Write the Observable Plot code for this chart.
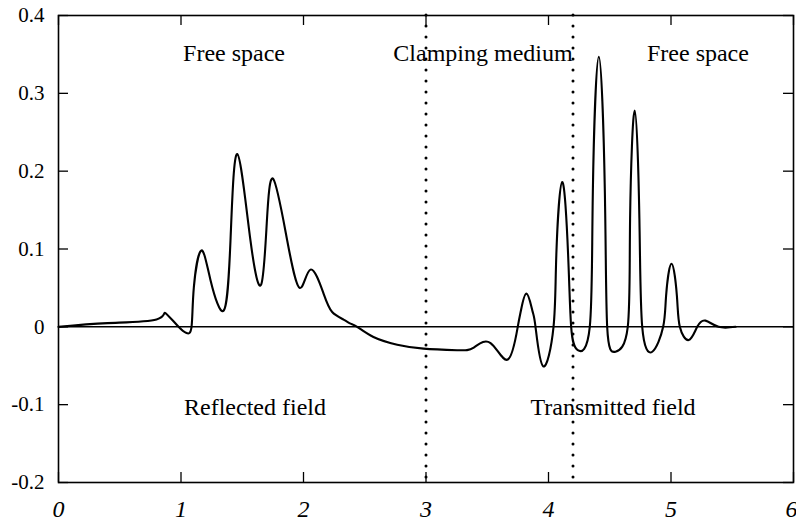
<!DOCTYPE html>
<html>
<head>
<meta charset="utf-8">
<script src="https://cdn.jsdelivr.net/npm/d3@7"></script>
<script src="https://cdn.jsdelivr.net/npm/@observablehq/plot@0.6"></script>
<style>
  html, body { margin: 0; padding: 0; background: #fff; }
  #chart { width: 796px; height: 523px; }
</style>
</head>
<body>
<div id="chart"></div>
<script>
const xTicks = [0, 1, 2, 3, 4, 5, 6];
const xTickLabels = ["0", "1", "2", "3", "4", "5", "6"];
const yTicks = [-0.2, -0.1, 0, 0.1, 0.2, 0.3, 0.4];
const yTickLabels = ["-0.2", "-0.1", "0", "0.1", "0.2", "0.3", "0.4"];

const fieldX = [0, 0.4, 0.80, 0.873, 0.98, 1.045, 1.086, 1.105, 1.165, 1.241, 1.349, 1.404, 1.459, 1.567, 1.655, 1.70, 1.753, 1.867, 1.970, 2.057, 2.163, 2.234, 2.327, 2.384, 2.438, 2.571, 2.765, 2.98, 3.255, 3.39, 3.527, 3.668, 3.749, 3.775, 3.820, 3.868, 3.894, 3.957, 4.041, 4.064, 4.112, 4.160, 4.185, 4.239, 4.337, 4.362, 4.411, 4.460, 4.479, 4.547, 4.647, 4.666, 4.704, 4.742, 4.765, 4.847, 4.936, 4.960, 5.004, 5.048, 5.072, 5.145, 5.214, 5.282, 5.388, 5.527];
const fieldY = [0, 0.0048, 0.0094, 0.0177, 0, -0.008, 0, 0.051, 0.098, 0.060, 0.021, 0.111, 0.222, 0.111, 0.0546, 0.133, 0.190, 0.111, 0.050, 0.0735, 0.043, 0.019, 0.0093, 0.0041, 0, -0.013, -0.023, -0.028, -0.030, -0.0267, -0.0208, -0.042, 0, 0.021, 0.0427, 0.021, 0, -0.0508, 0, 0.093, 0.186, 0.093, 0, -0.030, 0, 0.174, 0.347, 0.174, 0, -0.032, 0, 0.139, 0.278, 0.139, 0, -0.032, 0, 0.040, 0.081, 0.040, 0, -0.017, 0, 0.008, 0, 0];

const boundaries = [3, 4.2];

const regionLabels = ["Free space", "Clamping medium", "Free space", "Reflected field", "Transmitted field"];
const labelX = [1.433, 3.465, 5.22, 1.604, 4.527];
const labelY = [0.352, 0.352, 0.352, -0.104, -0.104];

const W = 796, H = 523;
const mL = 58, mR = 3, mT = 15, mB = 41;
const innerW = W - mL - mR, innerH = H - mT - mB;
const tickLen = 10;
const serif = "'Liberation Serif', 'DejaVu Serif', serif";

const field = fieldX.map((x, i) => ({x, y: fieldY[i]}));
const lastTick = xTicks[xTicks.length - 1];

const chart = Plot.plot({
  width: W,
  height: H,
  marginLeft: mL,
  marginRight: mR,
  marginTop: mT,
  marginBottom: mB,
  style: {fontFamily: serif, background: "#fff", color: "#000"},
  x: {domain: [0, 6]},
  y: {domain: [-0.2, 0.4]},
  marks: [
    Plot.axisX({ticks: xTicks.slice(0, -1), tickSize: 0, tickPadding: 17, fontSize: 24, fontStyle: "italic", tickFormat: d => xTickLabels[xTicks.indexOf(d)], label: null}),
    Plot.axisX({ticks: [lastTick], tickSize: 0, tickPadding: 17, fontSize: 24, fontStyle: "italic", textAnchor: "end", dx: 4, tickFormat: d => xTickLabels[xTicks.indexOf(d)], label: null}),
    Plot.axisY({ticks: yTicks, tickSize: 0, tickPadding: 14, fontSize: 21, tickFormat: d => yTickLabels[yTicks.indexOf(d)], label: null}),
    Plot.tickX(xTicks, {x: d => d, insetTop: innerH - tickLen, stroke: "#000", strokeWidth: 1.3}),
    Plot.tickX(xTicks, {x: d => d, insetBottom: innerH - tickLen, stroke: "#000", strokeWidth: 1.3}),
    Plot.tickY(yTicks, {y: d => d, insetRight: innerW - tickLen, stroke: "#000", strokeWidth: 1.3}),
    Plot.tickY(yTicks, {y: d => d, insetLeft: innerW - tickLen, stroke: "#000", strokeWidth: 1.3}),
    Plot.ruleY([0], {stroke: "#000", strokeWidth: 1.5}),
    Plot.ruleX(boundaries, {x: d => d, stroke: "#000", strokeWidth: 3, strokeDasharray: "0,11", strokeLinecap: "round"}),
    Plot.line(field, {x: "x", y: "y", curve: "natural", stroke: "#000", strokeWidth: 2.1}),
    Plot.text(regionLabels, {x: (d, i) => labelX[i], y: (d, i) => labelY[i], text: d => d, fontSize: 24, fontFamily: serif, fill: "#000"}),
    Plot.frame({stroke: "#000", strokeWidth: 1.6})
  ]
});
document.getElementById("chart").appendChild(chart);
</script>
</body>
</html>
